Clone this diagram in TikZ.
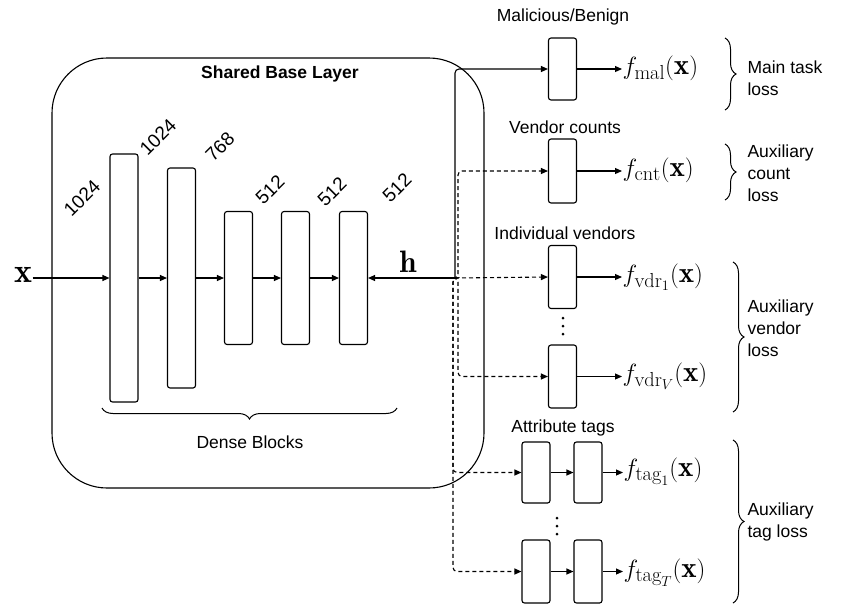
\documentclass[tikz,border=0pt]{standalone}
\usepackage{fontspec}
\setsansfont{Liberation Sans}
\usetikzlibrary{arrows.meta,decorations.pathreplacing}
\begin{document}
\begin{tikzpicture}[x=1pt,y=-1pt,
  every path/.style={line width=1.1pt},
  blk/.style={draw, rounded corners=2.5pt, minimum width=28pt, inner sep=0pt, line width=1.1pt},
  side/.style={blk, minimum height=63pt},
  arr/.style={-{Triangle[length=7pt,width=6pt]}},
  dsh/.style={dash pattern=on 4pt off 3pt},
  lbl/.style={font=\sffamily\fontsize{17.5}{20}\selectfont},
  dim/.style={font=\sffamily\fontsize{19}{20}\selectfont, rotate=45},
  fout/.style={anchor=west, inner sep=0pt, font=\fontsize{29}{30}\selectfont},
  dot/.style={circle, fill, inner sep=0pt, minimum size=3pt},
  loss/.style={anchor=west, align=left, inner sep=0pt, font=\sffamily\fontsize{17.5}{22}\selectfont},
  brc/.style={decorate, decoration={brace, amplitude=11pt}, line width=1pt}]
\useasboundingbox (0,0) rectangle (844,606);

% shared base layer frame
\draw[rounded corners=55pt] (52,58) rectangle (484,488);
\node[font=\sffamily\bfseries\fontsize{17.5}{20}\selectfont] (title) at (280,74) {Shared Base Layer};

% input and dense blocks
\node[font=\fontsize{34}{34}\selectfont, inner sep=0pt] (x) at (23,275) {$\mathbf{x}$};
\node[blk, minimum height=248pt] (b1) at (124,278) {};
\node[blk, minimum height=220pt] (b2) at (181.5,278) {};
\node[blk, minimum height=133pt] (b3) at (238.5,278) {};
\node[blk, minimum height=133pt] (b4) at (295.5,278) {};
\node[blk, minimum height=133pt] (b5) at (353.5,278) {};

\node[dim] (d0) at (82,198) {1024};
\node[dim] (d1) at (158,137) {1024};
\node[dim] (d2) at (220,147) {768};
\node[dim] (d3) at (270,190) {512};
\node[dim] (d4) at (332,192) {512};
\node[dim] (d5) at (397,188) {512};

\draw[arr] (x.east |- b1.west) -- (b1.west);
\draw[arr] (b1.east) -- (b2.west);
\draw[arr] (b2.east) -- (b3.west);
\draw[arr] (b3.east) -- (b4.west);
\draw[arr] (b4.east) -- (b5.west);

% shared representation
\coordinate (h) at (455,278);
\node[font=\fontsize{31}{31}\selectfont, inner sep=0pt] (hl) at (408,262) {$\mathbf{h}$};
\draw[arr] (h) -- (b5.east);

\coordinate (db1) at (102,408);
\coordinate (db2) at (397,408);
\draw[brc] (db2) -- (db1);
\node[lbl] (dense) at (250,442) {Dense Blocks};

% main task head
\node[side, minimum height=62pt] (mal) at (562.5,69) {};
\node[lbl] (malt) at (563,17) {Malicious/Benign};
\node[fout] (fmal) at (622,68) {$f_{\mathrm{mal}}(\mathbf{x})$};
\draw[arr, rounded corners=4pt] (h) |- (mal.west);
\draw[arr] (mal.east) -- (mal.east -| fmal.west);

% vendor count head
\node[side, minimum height=64pt] (cnt) at (562.5,171) {};
\node[lbl] (cntt) at (565,127) {Vendor counts};
\node[fout] (fcnt) at (622,170) {$f_{\mathrm{cnt}}(\mathbf{x})$};
\draw[arr, dsh, rounded corners=4pt] (h) -- ++(3,0) |- (cnt.west);
\draw[arr] (cnt.east) -- (cnt.east -| fcnt.west);

% individual vendor heads
\node[lbl] (vt) at (565,233) {Individual vendors};
\node[side] (v1) at (562.5,277) {};
\node[side] (vV) at (562.5,376.5) {};
\node[dot] (vd1) at (563,318) {};
\node[dot] (vd2) at (563,326) {};
\node[dot] (vd3) at (563,334) {};
\node[fout] (fv1) at (622,277) {$f_{\mathrm{vdr}_1}(\mathbf{x})$};
\node[fout] (fvV) at (622,376) {$f_{\mathrm{vdr}_V}(\mathbf{x})$};
\draw[arr, dsh] (h) -- (v1.west);
\draw[arr, dsh, rounded corners=4pt] (h) -- ++(3,0) |- (vV.west);
\draw[arr] (v1.east) -- (v1.east -| fv1.west);
\draw[arr] (vV.east) -- (vV.east -| fvV.west);

% attribute tag heads
\node[lbl] (tt) at (563,428) {Attribute tags};
\node[side, minimum height=61pt] (t1a) at (536,472.5) {};
\node[side, minimum height=61pt] (t1b) at (588,472.5) {};
\node[side] (tTa) at (536,571.5) {};
\node[side] (tTb) at (588,571.5) {};
\node[dot] (td1) at (557,518) {};
\node[dot] (td2) at (557,526) {};
\node[dot] (td3) at (557,534) {};
\node[fout] (ft1) at (623,472) {$f_{\mathrm{tag}_1}(\mathbf{x})$};
\node[fout] (ftT) at (623,573) {$f_{\mathrm{tag}_T}(\mathbf{x})$};
\draw[arr, dsh, rounded corners=4pt] (h) -- ++(-2,0) |- (t1a.west);
\draw[arr, dsh, rounded corners=4pt] (h) -- ++(-2,0) |- (tTa.west);
\draw[arr] (t1a.east) -- (t1b.west);
\draw[arr] (tTa.east) -- (tTb.west);
\draw[arr] (t1b.east) -- (t1b.east -| ft1.west);
\draw[arr] (tTb.east) -- (tTb.east -| ftT.west);

% loss braces
\coordinate (m1) at (725,38);  \coordinate (m2) at (725,110);
\coordinate (c1) at (725,144); \coordinate (c2) at (725,200);
\coordinate (v1b) at (733,262); \coordinate (v2b) at (733,412);
\coordinate (t1c) at (733,440); \coordinate (t2c) at (733,603);
\draw[brc] (m1) -- (m2);
\draw[brc] (c1) -- (c2);
\draw[brc] (v1b) -- (v2b);
\draw[brc] (t1c) -- (t2c);
\node[loss] (ml) at (747,78) {Main task\\loss};
\node[loss] (cl) at (747,173) {Auxiliary\\count\\loss};
\node[loss] (vl) at (747,328) {Auxiliary\\vendor\\loss};
\node[loss] (tl) at (747,522) {Auxiliary\\tag loss};
\end{tikzpicture}
\end{document}
